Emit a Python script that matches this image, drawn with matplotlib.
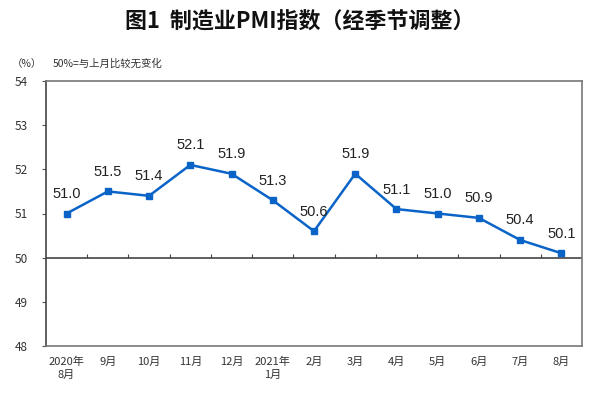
import matplotlib
matplotlib.use("Agg")
import matplotlib.pyplot as plt
import numpy as np

plt.rcParams['font.family'] = ['Noto Sans CJK SC', 'DejaVu Sans']

months = ["2020年\n8月", "9月", "10月", "11月", "12月", "2021年\n1月", "2月",
          "3月", "4月", "5月", "6月", "7月", "8月"]
pmi = [51.0, 51.5, 51.4, 52.1, 51.9, 51.3, 50.6, 51.9, 51.1, 51.0, 50.9, 50.4, 50.1]
yticks = [48, 49, 50, 51, 52, 53, 54]

fig = plt.figure(figsize=(6, 4), dpi=100)
ax = fig.add_axes([46/600, 1-346/400, (582-46)/600, (346-81)/400])

x = np.arange(len(pmi))
color = "#0a64c8"
ax.plot(x, pmi, color=color, lw=1.8, marker='s', ms=5, zorder=3)
for xi, v in zip(x, pmi):
    ax.annotate(f"{v:.1f}", (xi, v), xytext=(0, 9), textcoords='offset points',
                ha='center', va='bottom', fontsize=10.5, family='Liberation Sans',
                color='#222222')

ax.set_xlim(-0.5, len(pmi) - 0.5)
ax.set_ylim(yticks[0], yticks[-1])
ax.set_yticks(yticks)
ax.set_yticklabels([str(t) for t in yticks], fontsize=8.5, color='#333333')
ax.tick_params(axis='y', length=3, color='#555555', pad=10)
ax.set_xticks(x)
ax.set_xticklabels(months, fontsize=8, color='#333333', linespacing=1.3)
ax.tick_params(axis='x', length=0, pad=8)

for s in ax.spines.values():
    s.set_color('#777777')
    s.set_linewidth(1.2)
ax.spines['left'].set_color('#444444')

# baseline at 50 with category boundary ticks
ax.axhline(50, color='#444444', lw=1.2, zorder=2)
sec = ax.secondary_xaxis((50 - yticks[0]) / (yticks[-1] - yticks[0]))
sec.set_xticks(np.arange(0.5, len(pmi) - 0.5, 1))
sec.tick_params(axis='x', direction='in', length=3, color='#444444', labelbottom=False)
sec.spines['bottom'].set_visible(False)
sec.set_xticklabels([])

fig.text(0.5, 1 - 22/400, "图1  制造业PMI指数（经季节调整）", ha='center', va='center',
         fontsize=15.8, fontweight='bold', color='#111111')
fig.text(12/600, 1 - 64/400, "（%）", ha='left', va='center', fontsize=7.5, color='#333333')
fig.text(53/600, 1 - 64/400, "50%=与上月比较无变化", ha='left', va='center', fontsize=7.5,
         color='#333333')

fig.savefig("out.png", dpi=100)
